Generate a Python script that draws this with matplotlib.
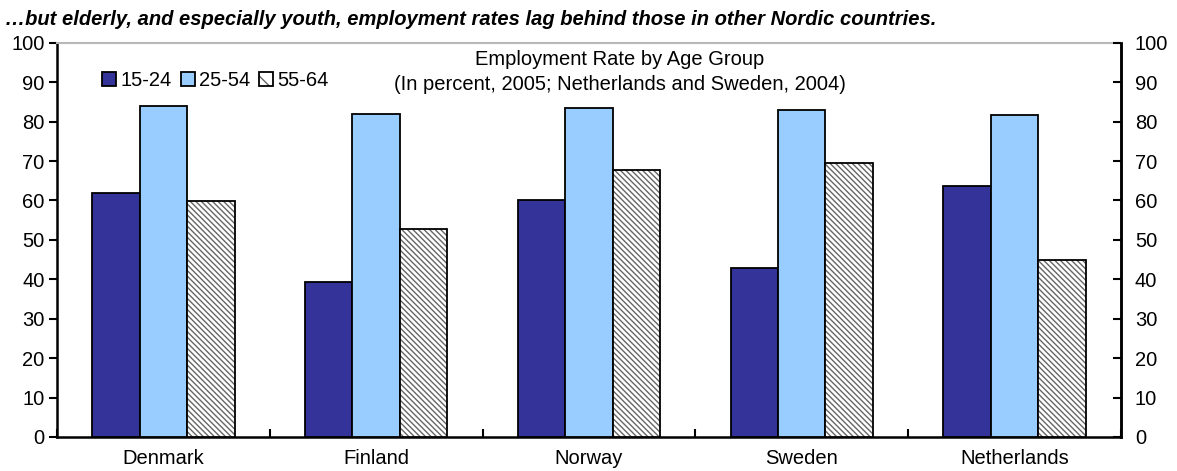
import matplotlib
matplotlib.use("Agg")
import matplotlib.pyplot as plt
import numpy as np
from matplotlib.patches import Patch

plt.rcParams['font.family'] = ['Liberation Sans', 'DejaVu Sans']
plt.rcParams['hatch.linewidth'] = 1.0

countries = ["Denmark", "Finland", "Norway", "Sweden", "Netherlands"]
age_groups = ["15-24", "25-54", "55-64"]
rate_15_24 = [62.0, 39.4, 60.1, 42.9, 63.7]
rate_25_54 = [84.0, 81.8, 83.4, 82.9, 81.7]
rate_55_64 = [59.9, 52.8, 67.6, 69.6, 44.8]
y_ticks = [0, 10, 20, 30, 40, 50, 60, 70, 80, 90, 100]

FS = 14.5

fig = plt.figure(figsize=(11.77, 4.71), dpi=100)
ax = fig.add_axes([0.0484, 0.0722, 0.904, 0.8371])

n = len(countries)
centers = np.arange(n) + 0.5
w = 0.223
dark = "#333399"
light = "#99CCFF"
hatch_gray = "#666666"

series = [rate_15_24, rate_25_54, rate_55_64]
handles = []
for k, vals in enumerate(series):
    x = centers + (k - 1) * w
    if k < 2:
        fc = dark if k == 0 else light
        ax.bar(x, vals, width=w, color=fc, edgecolor="black",
               linewidth=1.3, zorder=3)
        handles.append(Patch(facecolor=fc, edgecolor="black", linewidth=1.3))
    else:
        bars = ax.bar(x, vals, width=w, color="white", edgecolor="black",
                      linewidth=1.3, hatch="\\" * 6, zorder=3)
        for b in bars:
            b._hatch_color = matplotlib.colors.to_rgba(hatch_gray)
        hp = Patch(facecolor="white", edgecolor="black", linewidth=1.3,
                   hatch="\\\\")
        hp._hatch_color = matplotlib.colors.to_rgba(hatch_gray)
        handles.append(hp)

ax.set_xlim(0, n)
ax.set_ylim(0, 100)

# left axis
ax.set_yticks(y_ticks)
ax.tick_params(axis="y", direction="out", length=6, width=1.5,
               labelsize=FS, pad=3)
# category boundaries as ticks, names at group centres
ax.set_xticks(np.arange(n + 1))
ax.set_xticklabels([])
ax.set_xticks(centers, minor=True)
ax.set_xticklabels(countries, minor=True, fontsize=FS)
ax.tick_params(axis="x", which="major", direction="in", length=6, width=1.5)
ax.tick_params(axis="x", which="minor", length=0, pad=9)

for side in ("left", "bottom", "right"):
    ax.spines[side].set_linewidth(1.8)
    ax.spines[side].set_color("black")
ax.spines["top"].set_color("#b8b8b8")
ax.spines["top"].set_linewidth(1.5)

# right axis
ax2 = ax.twinx()
ax2.set_ylim(0, 100)
ax2.set_yticks(y_ticks)
ax2.tick_params(axis="y", direction="in", length=6, width=1.5,
                labelsize=FS, pad=10)
for side in ("left", "bottom", "top"):
    ax2.spines[side].set_visible(False)
ax2.spines["right"].set_linewidth(1.8)

ax.legend(handles, age_groups, loc="center left",
          bbox_to_anchor=(0.035, 0.905), ncol=3, frameon=False,
          fontsize=FS, handlelength=0.7, handleheight=0.7,
          handletextpad=0.2, columnspacing=0.45, borderaxespad=0)

ax.text(0.529, 0.958, "Employment Rate by Age Group", transform=ax.transAxes,
        ha="center", va="center", fontsize=FS)
ax.text(0.529, 0.893, "(In percent, 2005; Netherlands and Sweden, 2004)",
        transform=ax.transAxes, ha="center", va="center", fontsize=FS)

fig.text(0.004, 0.958,
         "\u2026but elderly, and especially youth, employment rates lag behind those in other Nordic countries.",
         ha="left", va="center", fontsize=FS, fontweight="bold", style="italic")

fig.savefig("out.png", dpi=100)
